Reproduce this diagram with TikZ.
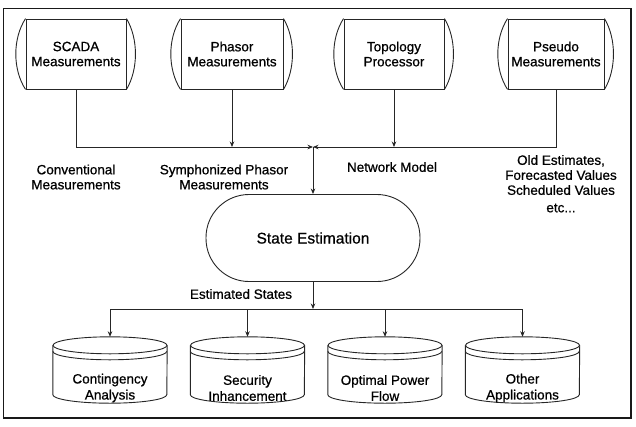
\documentclass[tikz,border=0pt]{standalone}
\usepackage{fontspec}
\setmainfont{Liberation Sans}[FakeBold=0.7]
\usetikzlibrary{arrows.meta,calc}
\begin{document}
\begin{tikzpicture}[x=1pt,y=-1pt,
  line/.style={draw=black!85, line width=0.8pt},
  arr/.style={line, -{Stealth[length=5.5pt,width=4.5pt]}},
  shp/.style={draw=black!85, line width=0.9pt},
  lbl/.style={font=\fontsize{13.5}{15}\selectfont, align=center, inner sep=0pt},
  topbox/.style={shp, minimum width=100pt, minimum height=70pt, align=center, inner sep=0pt, font=\fontsize{13.5}{15}\selectfont},
  cylbox/.style={draw=none, minimum width=114pt, minimum height=66pt, inner sep=0pt},
  cyltext/.style={font=\fontsize{13.5}{16}\selectfont, align=center, inner sep=0pt}
]
\newcommand{\tapeends}[1]{%
  \draw[shp] (#1.north west) .. controls +(-13,20) and +(-13,-20) .. (#1.south west);
  \draw[shp] (#1.north east) .. controls +(12,20) and +(12,-20) .. (#1.south east);}
\newcommand{\cylshape}[1]{%
  \draw[shp] ($(#1.north west)+(0,8.5)$) -- ($(#1.south west)+(0,-8.5)$)
     arc[start angle=180,end angle=0,x radius=57,y radius=8.5] -- ($(#1.north east)+(0,8.5)$);
  \draw[shp] ($(#1.north)+(0,8.5)$) ellipse[x radius=57,y radius=8.5];
  \draw[shp] ($(#1.north west)+(0,14.5)$) arc[start angle=180,end angle=0,x radius=57,y radius=8.5];}

\useasboundingbox (0,0) rectangle (636,426);
\draw[line width=1.6pt, draw=black!90] (3.5,8.5) rectangle (631,418);

% top sources
\node[topbox] (scada) at (76,54) {SCADA\\Measurements};
\node[topbox, minimum width=102pt] (phasor) at (232,54) {Phasor\\Measurements};
\node[topbox] (topo) at (394,54) {Topology\\Processor};
\node[topbox, minimum width=96pt] (pseudo) at (556,54) {Pseudo\\Measurements};
\tapeends{scada}\tapeends{phasor}\tapeends{topo}\tapeends{pseudo}

% bus
\coordinate (j) at (313,147);
\draw[arr] (scada.south) |- (j);
\draw[arr] (pseudo.south) |- (j);
\draw[arr] (phasor.south) -- (phasor.south |- j);
\draw[arr] (topo.south) -- (topo.south |- j);

% labels
\node[lbl] (conv) at (76,177) {Conventional\\Measurements};
\node[lbl] (sym) at (224,177) {Symphonized Phasor\\Measurements};
\node[lbl] (net) at (392,167) {Network Model};
\node[lbl] (old) at (561,175) {Old Estimates,\\Forecasted Values\\Scheduled Values};
\node[lbl] (etc) at (561,208) {etc...};

% state estimation
\node[shp, rounded corners=43pt, minimum width=214pt, minimum height=87pt,
      font=\fontsize{15.5}{17}\selectfont] (se) at (313,238) {State Estimation};
\draw[arr] (j) -- (se.north);

\coordinate (k) at (313,309);
\draw[arr] (se.south) -- (k);
\node[lbl] (est) at (241,294) {Estimated States};

% applications
\node[cylbox] (ca) at (110,370) {};
\node[cylbox] (si) at (247.5,370) {};
\node[cylbox] (op) at (385,370) {};
\node[cylbox] (oa) at (522.5,370) {};
\cylshape{ca}\cylshape{si}\cylshape{op}\cylshape{oa}
\node[cyltext] (cat) at (110,388) {Contingency\\Analysis};
\node[cyltext] (sit) at (247.5,388) {Security\\Inhancement};
\node[cyltext] (opt) at (385,388) {Optimal Power\\Flow};
\node[cyltext] (oat) at (522.5,388) {Other\\Applications};

\draw[line] (ca.north |- k) -- (oa.north |- k);
\draw[arr] (ca.north |- k) -- (ca.north);
\draw[arr] (si.north |- k) -- (si.north);
\draw[arr] (op.north |- k) -- (op.north);
\draw[arr] (oa.north |- k) -- (oa.north);
\end{tikzpicture}
\end{document}
